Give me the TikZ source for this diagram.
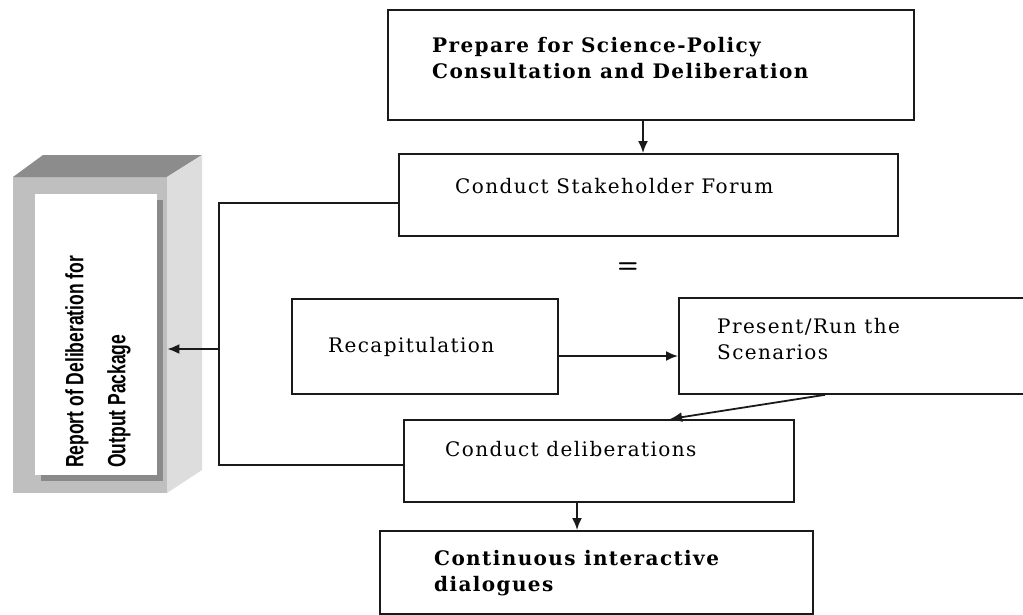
\documentclass[tikz,border=0pt]{standalone}
\usepackage{fontspec}
\setmainfont{DejaVu Serif}[LetterSpace=7]
\newfontfamily\reportfont[FakeStretch=0.7]{Liberation Sans}
\usetikzlibrary{arrows.meta}

\definecolor{linegray}{HTML}{1A1A1A}
\definecolor{frontgray}{HTML}{BFBFBF}
\definecolor{topgray}{HTML}{8C8C8C}
\definecolor{sidegray}{HTML}{DDDDDD}
\definecolor{shadowgray}{HTML}{8A8A8A}

\begin{document}
\begin{tikzpicture}[x=1pt,y=-1pt,
  box/.style={draw=linegray, line width=1.8pt, fill=white, anchor=north west, inner sep=0pt},
  lbl/.style={inner sep=0pt, text=black, font=\fontsize{20}{26}\selectfont},
  blbl/.style={lbl, font=\fontsize{20}{26}\selectfont\bfseries},
  conn/.style={line width=1.8pt, draw=linegray},
  arr/.style={conn, -{Latex[length=12pt,width=10pt]}},
]
\useasboundingbox (0,0) rectangle (1023,614);

% --- process boxes ---
\node[box, minimum width=526pt, minimum height=110pt] (prep)    at (387,9)   {};
\node[box, minimum width=499pt, minimum height=82pt]  (stake)   at (398,153) {};
\node[box, minimum width=266pt, minimum height=95pt]  (recap)   at (291,298) {};
\node[box, minimum width=360pt, minimum height=96pt]  (present) at (678,297) {};
\node[box, minimum width=390pt, minimum height=82pt]  (delib)   at (403,419) {};
\node[box, minimum width=433pt, minimum height=83pt]  (cont)    at (379,530) {};

% --- box labels ---
\node[blbl, align=left, anchor=north west] (preptxt) at (432,37)
  {Prepare for Science-Policy\\Consultation and Deliberation};
\node[lbl, anchor=base west] (staketxt) at (455,193) {Conduct Stakeholder Forum};
\node[lbl, anchor=base west] (recaptxt) at (328,352) {Recapitulation};
\node[lbl, align=left, anchor=north west] (presenttxt) at (717,318)
  {Present/Run the\\Scenarios};
\node[lbl, anchor=base west] (delibtxt) at (445,456) {Conduct deliberations};
\node[blbl, align=left, anchor=north west] (conttxt) at (434,550)
  {Continuous interactive\\dialogues};
\node[inner sep=0pt, font=\sffamily\bfseries\fontsize{24}{24}\selectfont] (eq) at (628,268) {=};

% --- report block drawn as a 3D slab ---
\node[fill=frontgray, minimum width=154pt, minimum height=316pt, anchor=north west, inner sep=0pt]
  (report) at (13,177) {};
\fill[topgray]  (13,177) -- (43,155) -- (202,155) -- (167,177) -- cycle;
\fill[sidegray] (167,177) -- (202,155) -- (202,470) -- (167,493) -- cycle;
\fill[shadowgray] (41,200) rectangle (163,481);
\fill[white] (35,194) rectangle (157,475);
\node[inner sep=0pt, rotate=90, anchor=north west, align=left,
      font=\reportfont\bfseries\fontsize{25}{42}\selectfont] (reporttxt) at (65,468)
  {Report of Deliberation for\\Output Package};

% --- connectors ---
\coordinate (ax) at (643,0);
\coordinate (bx) at (577,0);
\coordinate (ry) at (0,356);
\coordinate (dtop) at (825,0);
\coordinate (dbot) at (670,0);
\coordinate (jt) at (219,203);
\coordinate (ja) at (219,349);
\coordinate (jb) at (219,465);

\draw[arr] (prep.south -| ax) -- (stake.north -| ax);
\draw[arr] (recap.east |- ry) -- (present.west |- ry);
\draw[arr] (present.south -| dtop) -- (delib.north -| dbot);
\draw[arr] (delib.south -| bx) -- (cont.north -| bx);
\draw[conn] (stake.west |- jt) -- (jt) -- (jb) -- (delib.west |- jb);
\draw[arr] (ja) -- (report.east |- ja);
\end{tikzpicture}
\end{document}
